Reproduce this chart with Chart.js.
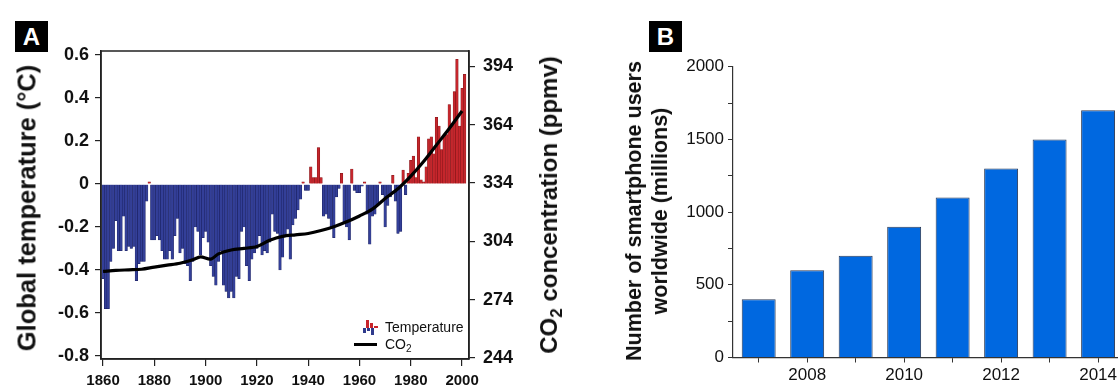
<!DOCTYPE html>
<html><head><meta charset="utf-8">
<script src="https://cdn.jsdelivr.net/npm/chart.js@4.4.0/dist/chart.umd.min.js"></script>
<style>
html,body{margin:0;padding:0;background:#fff;}
#wrap{position:relative;width:1120px;height:392px;overflow:hidden;font-family:"Liberation Sans",Arial,sans-serif;}
#ca{position:absolute;left:0;top:0;}
#cb{position:absolute;left:600px;top:0;}
.box{position:absolute;background:#000;color:#fff;font-weight:bold;font-size:24px;text-align:center;}
.vt{position:absolute;transform:translate(-50%,-50%) rotate(-90deg);white-space:nowrap;font-weight:bold;color:#111;text-align:center;}
.leg{position:absolute;font-size:14px;color:#111;white-space:nowrap;}
.ib{position:absolute;}
</style></head><body>
<div id="wrap">
<canvas id="ca" width="600" height="392"></canvas>
<canvas id="cb" width="520" height="392"></canvas>
<div class="box" style="left:15px;top:21px;width:33px;height:31px;line-height:31px;">A</div>
<div class="box" style="left:649px;top:21px;width:33px;height:31px;line-height:31px;">B</div>
<div class="vt" style="left:27px;top:208px;font-size:25.5px;">Global temperature (°C)</div>
<div class="vt" style="left:551px;top:205px;font-size:24px;">CO<sub style="font-size:17px;vertical-align:-5px;">2</sub> concentration (ppmv)</div>
<div class="vt" style="left:647px;top:211px;font-size:21.5px;line-height:26px;">Number of smartphone users<br>worldwide (millions)</div>
<!-- legend A -->
<div class="ib" style="left:366px;top:320px;width:3px;height:8px;background:#C8242B;"></div>
<div class="ib" style="left:370px;top:323px;width:3px;height:5px;background:#C8242B;"></div>
<div class="ib" style="left:374px;top:326px;width:4px;height:2px;background:#C8242B;"></div>
<div class="ib" style="left:363px;top:328px;width:3px;height:5px;background:#2E3A8C;"></div>
<div class="ib" style="left:367px;top:328px;width:3px;height:3px;background:#2E3A8C;"></div>
<div class="ib" style="left:371px;top:328px;width:3px;height:7px;background:#2E3A8C;"></div>
<div class="leg" style="left:385px;top:319px;">Temperature</div>
<div class="ib" style="left:354px;top:343px;width:23px;height:3px;background:#000;"></div>
<div class="leg" style="left:385px;top:336px;">CO<sub style="font-size:10px;vertical-align:-3px;">2</sub></div>
</div>
<script>
// ---------- Panel A data ----------
const years = [];
for (let y = 1860; y <= 2001; y++) years.push(y);
const temps = [
 -0.44,-0.58,-0.58,-0.36,-0.30,-0.17,-0.31,-0.31,-0.15,-0.31, // 1860-1869
 -0.29,-0.30,-0.29,-0.45,-0.37,-0.36,-0.36,-0.08, 0.01,-0.26, // 1870-1879
 -0.26,-0.24,-0.26,-0.31,-0.35,-0.35,-0.31,-0.35,-0.24,-0.16, // 1880-1889
 -0.32,-0.30,-0.37,-0.38,-0.45,-0.36,-0.20,-0.22,-0.33,-0.25, // 1890-1899
 -0.22,-0.27,-0.38,-0.43,-0.47,-0.36,-0.31,-0.47,-0.50,-0.53, // 1900-1909
 -0.50,-0.53,-0.43,-0.44,-0.22,-0.20,-0.38,-0.45,-0.35,-0.32, // 1910-1919
 -0.30,-0.24,-0.33,-0.31,-0.32,-0.27,-0.14,-0.22,-0.23,-0.40, // 1920-1929
 -0.34,-0.24,-0.21,-0.35,-0.19,-0.16,-0.12,-0.07, 0.01,-0.03, // 1930-1939
 -0.03, 0.08, 0.03, 0.03, 0.17, 0.03,-0.15,-0.14,-0.16,-0.20, // 1940-1949
 -0.25,-0.06,-0.02, 0.05,-0.18,-0.20,-0.26, 0.07,-0.03,-0.04, // 1950-1959
 -0.04,-0.01, 0.01,-0.14,-0.28,-0.15,-0.14,-0.10, 0.01,-0.05, // 1960-1969
 -0.20,-0.10,-0.06, 0.04,-0.08,-0.23,-0.22, 0.065,-0.05, 0.05, // 1970-1979
  0.11, 0.13, 0.03, 0.22, 0.02, 0.01, 0.08, 0.21, 0.22, 0.14, // 1980-1989
  0.31, 0.27, 0.16, 0.22, 0.23, 0.37, 0.28, 0.43, 0.58, 0.27, // 1990-1999
  0.445, 0.51                                                  // 2000-2001
];
const co2Years  = [1860,1865,1870,1875,1880,1885,1890,1895,1898,1902,1905,1910,1915,1920,1925,1930,1935,1940,1945,1950,1955,1960,1965,1970,1975,1980,1985,1990,1995,2000];
const co2Values = [288.5,289,289.3,289.6,290.7,291.7,292.7,294.5,296,294.8,297.5,299.5,300.3,301.3,304.5,306.5,307.3,308,309.5,311.5,314,317,320.5,326,331,337.5,345,353.5,362,371];
const tempTicks = [0.6,0.4,0.2,0,-0.2,-0.4,-0.6,-0.8];
const co2Ticks  = [394,364,334,304,274,244];
const yearTicks = [1860,1880,1900,1920,1940,1960,1980,2000];

// ---------- Panel B data ----------
const phoneYears = [2007,2008,2009,2010,2011,2012,2013,2014];
const phoneUsers = [400,600,700,900,1100,1300,1500,1700];
const phoneYTicks = [0,250,500,750,1000,1250,1500,1750,2000];
const phoneYLabels = [0,500,1000,1500,2000];
const phoneXLabels = [2008,2010,2012,2014];

const FONT = "'Liberation Sans', Arial, sans-serif";
const RED = '#C5262C', REDB = '#7E1418', BLUE = '#333F98', BLUEB = '#1A1F5C';

const boxPlugin = {
  id:'box',
  afterDraw(chart){
    const {ctx, chartArea:a} = chart;
    ctx.save(); ctx.strokeStyle='#222'; ctx.lineWidth=1.5;
    ctx.strokeRect(a.left, a.top, a.right-a.left, a.bottom-a.top);
    ctx.restore();
  }
};

new Chart(document.getElementById('ca'), {
  type:'bar',
  data:{datasets:[
    {type:'line', label:'CO2', data:co2Years.map((x,i)=>({x, y:co2Values[i]})), yAxisID:'y2',
     borderColor:'#000', borderWidth:3.2, pointRadius:0, tension:0.3, order:0},
    {type:'bar', label:'Temperature', data:years.map((x,i)=>({x, y:temps[i]})), yAxisID:'y',
     backgroundColor:temps.map(v=>v>=0?RED:BLUE), borderColor:temps.map(v=>v>=0?REDB:BLUEB),
     borderWidth:0.5, barPercentage:1, categoryPercentage:1, order:1}
  ]},
  options:{
    responsive:false, animation:false,
    layout:{padding:{top:51,left:0,right:0,bottom:0}},
    plugins:{legend:{display:false}, tooltip:{enabled:false}},
    scales:{
      x:{type:'linear', offset:false, min:1859.2, max:2002.7,
         afterBuildTicks:a=>{a.ticks=yearTicks.map(v=>({value:v}));},
         afterFit:a=>{a.height=33;},
         grid:{drawOnChartArea:false, offset:false, tickLength:7, color:'#222', lineWidth:1.2},
         border:{color:'#222', width:1.5},
         ticks:{font:{family:FONT,size:15,weight:'bold'}, color:'#111', padding:6, autoSkip:false, maxRotation:0, callback:v=>String(v)}},
      y:{position:'left', min:-0.814, max:0.619,
         afterBuildTicks:a=>{a.ticks=tempTicks.map(v=>({value:v}));},
         afterFit:a=>{a.width=101;},
         grid:{drawOnChartArea:false, tickLength:6, color:'#222', lineWidth:1.2},
         border:{color:'#222', width:1.5},
         ticks:{font:{family:FONT,size:18,weight:'bold'}, color:'#111', padding:6, callback:v=>v===0?'0':v.toFixed(1)}},
      y2:{position:'right', min:243.4, max:401.9,
         afterBuildTicks:a=>{a.ticks=co2Ticks.map(v=>({value:v}));},
         afterFit:a=>{a.width=131;},
         grid:{drawOnChartArea:false, tickLength:6, color:'#222', lineWidth:1.2},
         border:{color:'#222', width:1.5},
         ticks:{font:{family:FONT,size:18,weight:'bold'}, color:'#111', padding:8, callback:v=>String(v)}}
    }
  },
  plugins:[boxPlugin]
});

new Chart(document.getElementById('cb'), {
  type:'bar',
  data:{datasets:[{label:'Smartphone users', data:phoneYears.map((x,i)=>({x, y:phoneUsers[i]})),
    backgroundColor:'#0068E0', borderColor:'#2B3A55', borderWidth:1, barPercentage:0.7, categoryPercentage:1}]},
  options:{
    responsive:false, animation:false,
    layout:{padding:{top:66.7,left:0,right:0,bottom:0}},
    plugins:{legend:{display:false}, tooltip:{enabled:false}},
    scales:{
      x:{type:'linear', offset:false, min:2006.47, max:2014.41,
         afterBuildTicks:a=>{a.ticks=phoneYears.map(v=>({value:v}));},
         afterFit:a=>{a.height=34.5;},
         grid:{drawOnChartArea:false, offset:false, tickLength:5, color:'#333', lineWidth:1},
         border:{color:'#333', width:1.2},
         ticks:{font:{family:FONT,size:17}, color:'#111', padding:3, autoSkip:false, maxRotation:0,
                callback:v=>phoneXLabels.includes(v)?String(v):''}},
      y:{min:0, max:2000,
         afterBuildTicks:a=>{a.ticks=phoneYTicks.map(v=>({value:v}));},
         afterFit:a=>{a.width=133;},
         grid:{drawOnChartArea:false, tickLength:5, color:'#333', lineWidth:1},
         border:{color:'#333', width:1.2},
         ticks:{font:{family:FONT,size:17}, color:'#111', padding:4,
                callback:v=>phoneYLabels.includes(v)?String(v):''}}
    }
  }
});
</script>
</body></html>
